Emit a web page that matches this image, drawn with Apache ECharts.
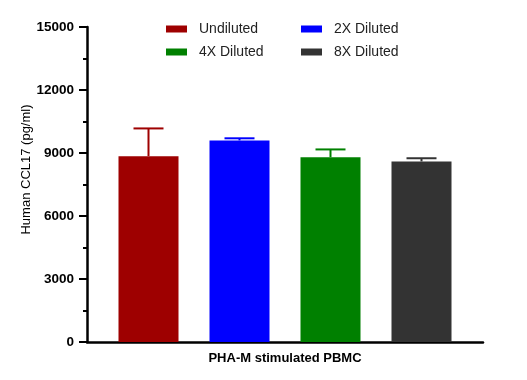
<!DOCTYPE html>
<html><head><meta charset="utf-8">
<script src="https://cdn.jsdelivr.net/npm/echarts@6/dist/echarts.min.js"></script>
<style>html,body{margin:0;padding:0;background:#fff}#c{width:527px;height:380px}</style>
</head><body><div id="c"></div>
<script>
const categories = ['PHA-M stimulated PBMC'];
const seriesNames = ['Undiluted', '2X Diluted', '4X Diluted', '8X Diluted'];
const means = [8850, 9600, 8800, 8600];
const errors = [1320, 100, 370, 150];
const colors = ['#9E0000', '#0000FF', '#008000', '#333333'];
const yTicks = [0, 3000, 6000, 9000, 12000, 15000];

const BAR_W = 60, GAP = 31;
const FONT = 'Arial, "Liberation Sans", sans-serif';
const chart = echarts.init(document.getElementById('c'));

const series = [];
seriesNames.forEach((n, i) => {
  series.push({
    name: n, type: 'bar', data: [means[i]], barWidth: BAR_W, barGap: (GAP / BAR_W * 100) + '%',
    itemStyle: { color: colors[i] }, z: 2
  });
});
seriesNames.forEach((n, i) => {
  series.push({
    name: n, type: 'custom', z: 3,
    data: [[0, means[i], means[i] + errors[i]]],
    renderItem: function (params, api) {
      const c = api.coord([api.value(0), api.value(1)]);
      const t = api.coord([api.value(0), api.value(2)]);
      const x = c[0] + (i - 1.5) * (BAR_W + GAP);
      const half = BAR_W / 4;
      const st = { stroke: colors[i], lineWidth: 2 };
      return { type: 'group', children: [
        { type: 'line', shape: { x1: x, y1: c[1], x2: x, y2: t[1] }, style: st },
        { type: 'line', shape: { x1: x - half, y1: t[1], x2: x + half, y2: t[1] }, style: st }
      ]};
    }
  });
});

function leg(name, left, top) {
  return { data: [name], left: left, top: top, itemWidth: 21, itemHeight: 7, icon: 'rect',
    textStyle: { fontFamily: FONT, fontSize: 14, color: '#222', padding: [0, 0, 0, 7] }, selectedMode: false, padding: 0 };
}

chart.setOption({
  animation: false,
  grid: { left: 87, right: 44, top: 27, bottom: 38 },
  legend: [ leg('Undiluted', 166, 22), leg('2X Diluted', 301, 22), leg('4X Diluted', 166, 45), leg('8X Diluted', 301, 45) ],
  xAxis: {
    type: 'category', data: categories,
    axisLine: { lineStyle: { color: '#000', width: 2.5 } },
    axisTick: { show: false },
    axisLabel: { fontFamily: FONT, fontSize: 13, fontWeight: 'bold', color: '#000', margin: 10 }
  },
  yAxis: {
    type: 'value', min: yTicks[0], max: yTicks[yTicks.length - 1], interval: 3000,
    name: 'Human CCL17 (pg/ml)', nameLocation: 'middle', nameGap: 54, nameMoveOverlap: false,
    nameTextStyle: { fontFamily: FONT, fontSize: 13, color: '#000', padding: [0, 0, 0, 30] },
    axisLine: { show: true, lineStyle: { color: '#000', width: 2.5 } },
    axisTick: { show: true, length: 8, lineStyle: { color: '#000', width: 2 } },
    minorTick: { show: true, splitNumber: 2, length: 4, lineStyle: { color: '#000', width: 2 } },
    splitLine: { show: false },
    axisLabel: { fontFamily: FONT, fontSize: 13.5, fontWeight: 'bold', color: '#000', margin: 13,
      formatter: v => String(v) }
  },
  series: series
});
</script></body></html>
